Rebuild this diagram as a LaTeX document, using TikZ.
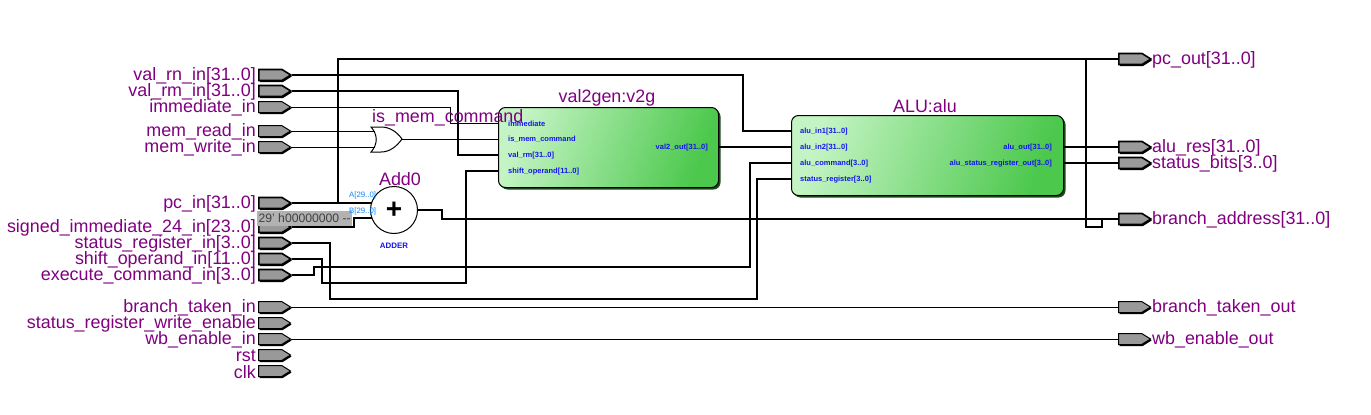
\documentclass[tikz,border=0pt]{standalone}
\usepackage{fontspec}
\setmainfont{Liberation Sans}
\usepackage{tikz}
\usetikzlibrary{shapes.symbols,shadows}
\definecolor{pinpurple}{HTML}{800080}
\definecolor{pingray}{HTML}{999999}
\definecolor{portblue}{HTML}{1414F0}
\definecolor{addblue}{HTML}{0A84FF}
\definecolor{boxlight}{HTML}{C4F4C4}
\definecolor{boxdark}{HTML}{4CC84C}
\definecolor{boxshadow}{HTML}{1F4A1F}
\tikzset{
  pinbox/.style={signal,signal to=east,signal pointer angle=64,draw=black,fill=pingray,line width=1pt,
    minimum width=32,minimum height=11,inner sep=0,general shadow={fill=black,shadow xshift=1pt,shadow yshift=-1.5pt}},
  buspin/.style={pinbox,line width=1.6pt},
  pintext/.style={text=pinpurple,font=\fontsize{17.9}{18}\selectfont,inner sep=0,yshift=-1pt},
  porttext/.style={text=portblue,font=\fontsize{7.5}{8}\selectfont\bfseries,inner sep=0,yshift=-0.7pt},
  addtext/.style={text=addblue,font=\fontsize{7.8}{8}\selectfont,inner sep=0},
  modbox/.style={draw=black,line width=1pt,rounded corners=7pt,anchor=north west,inner sep=0,
    left color=boxlight,right color=boxdark,shading angle=70,
    general shadow={fill=boxshadow,shadow xshift=2pt,shadow yshift=-2pt}},
  wirebus/.style={draw=black,line width=1.8pt},
  wirethin/.style={draw=black,line width=1pt}
}
\begin{document}
\begin{tikzpicture}[x=1pt,y=-1pt]
\useasboundingbox (0,0) rectangle (1371,415);
\node[buspin,anchor=west] (val_rn_in) at (258,75) {};
\node[buspin,anchor=west] (val_rm_in) at (258,91) {};
\node[pinbox,anchor=west] (immediate_in) at (258,107) {};
\node[pinbox,anchor=west] (mem_read_in) at (258,131) {};
\node[pinbox,anchor=west] (mem_write_in) at (258,147) {};
\node[buspin,anchor=west] (pc_in) at (258,203) {};
\node[buspin,anchor=west] (signed_in) at (258,227) {};
\node[buspin,anchor=west] (status_in) at (258,243) {};
\node[buspin,anchor=west] (shift_in) at (258,259) {};
\node[buspin,anchor=west] (execute_in) at (258,275) {};
\node[pinbox,anchor=west] (taken_in) at (258,307) {};
\node[pinbox,anchor=west] (write_en) at (258,323) {};
\node[pinbox,anchor=west] (wb_in) at (258,339) {};
\node[pinbox,anchor=west] (rst_in) at (258,355) {};
\node[pinbox,anchor=west] (clk_in) at (258,371) {};
\node[buspin,anchor=west] (pc_out) at (1118,59) {};
\node[buspin,anchor=west] (alu_res) at (1118,147) {};
\node[buspin,anchor=west] (status_bits) at (1118,163) {};
\node[buspin,anchor=west] (branch_addr) at (1118,219) {};
\node[pinbox,anchor=west] (taken_out) at (1118,307) {};
\node[pinbox,anchor=west] (wb_out) at (1118,339) {};
\node[pintext,anchor=east] (t_val_rn) at (256,75) {val\_rn\_in[31..0]};
\node[pintext,anchor=east] (t_val_rm) at (256,91) {val\_rm\_in[31..0]};
\node[pintext,anchor=east] (t_imm) at (256,107) {immediate\_in};
\node[pintext,anchor=east] (t_read) at (256,131) {mem\_read\_in};
\node[pintext,anchor=east] (t_write) at (256,147) {mem\_write\_in};
\node[pintext,anchor=east] (t_pc) at (256,203) {pc\_in[31..0]};
\node[pintext,anchor=east] (t_signed) at (256,227) {signed\_immediate\_24\_in[23..0]};
\node[pintext,anchor=east] (t_status) at (256,243) {status\_register\_in[3..0]};
\node[pintext,anchor=east] (t_shift) at (256,259) {shift\_operand\_in[11..0]};
\node[pintext,anchor=east] (t_exec) at (256,275) {execute\_command\_in[3..0]};
\node[pintext,anchor=east] (t_taken) at (256,307) {branch\_taken\_in};
\node[pintext,anchor=east] (t_wen) at (256,323) {status\_register\_write\_enable};
\node[pintext,anchor=east] (t_wb) at (256,339) {wb\_enable\_in};
\node[pintext,anchor=east] (t_rst) at (256,355) {rst};
\node[pintext,anchor=east] (t_clk) at (256,371) {clk};
\node[pintext,anchor=west] (t_pcout) at (1152,59) {pc\_out[31..0]};
\node[pintext,anchor=west] (t_res) at (1152,147) {alu\_res[31..0]};
\node[pintext,anchor=west] (t_bits) at (1152,163) {status\_bits[3..0]};
\node[pintext,anchor=west] (t_addr) at (1152,219) {branch\_address[31..0]};
\node[pintext,anchor=west] (t_takenout) at (1152,307) {branch\_taken\_out};
\node[pintext,anchor=west] (t_wbout) at (1152,339) {wb\_enable\_out};
\node[modbox,minimum width=220,minimum height=80] (v2g) at (498,107) {};
\node[modbox,minimum width=272,minimum height=80] (alu) at (791,115) {};
\node[draw=black,fill=white,circle,line width=1pt,minimum size=47,inner sep=0] (add0) at (394,210) {};
\draw[wirethin,fill=white] (371,127) .. controls (378,135) and (378,144) .. (371,152) -- (381,152)
  .. controls (390,152) and (397,146) .. (402,139) .. controls (397,132) and (390,127) .. (381,127) -- cycle;
\coordinate (or_a) at (375,131);
\coordinate (or_b) at (375,147);
\coordinate (or_out) at (402,139);
\node[porttext,anchor=west] (p_imm) at (508,123) {immediate};
\node[porttext,anchor=west] (p_mem) at (508,139) {is\_mem\_command};
\node[porttext,anchor=west] (p_rm) at (508,155) {val\_rm[31..0]};
\node[porttext,anchor=west] (p_shift) at (508,171) {shift\_operand[11..0]};
\node[porttext,anchor=east] (p_val2) at (708,147) {val2\_out[31..0]};
\node[porttext,anchor=west] (p_in1) at (800,131) {alu\_in1[31..0]};
\node[porttext,anchor=west] (p_in2) at (800,147) {alu\_in2[31..0]};
\node[porttext,anchor=west] (p_cmd) at (800,163) {alu\_command[3..0]};
\node[porttext,anchor=west] (p_sr) at (800,179) {status\_register[3..0]};
\node[porttext,anchor=east] (p_out) at (1052,147) {alu\_out[31..0]};
\node[porttext,anchor=east] (p_srout) at (1052,163) {alu\_status\_register\_out[3..0]};
\draw[wirebus] (val_rn_in.east) -- (743,75) -- (743,131) -- (alu.west |- 0,131);
\draw[wirebus] (val_rm_in.east) -- (458,91) -- (458,155) -- (v2g.west |- 0,155);
\draw[wirethin] (immediate_in.east) -- (450,107) -- (450,123) -- (v2g.west |- 0,123);
\draw[wirethin] (mem_read_in.east) -- (or_a);
\draw[wirethin] (mem_write_in.east) -- (or_b);
\draw[wirethin] (or_out) -- (v2g.west |- or_out);
\draw[wirebus] (pc_in.east) -- (372,203);
\draw[wirebus] (338,203) -- (338,59) -- (pc_out.west);
\draw[wirebus] (signed_in.east) -- (354,227) -- (354,218) -- (372,218);
\draw[wirebus] (add0.east) -- (442,210) -- (442,219) -- (branch_addr.west);
\draw[wirebus] (status_in.east) -- (330,243) -- (330,299) -- (757,299) -- (757,179) -- (alu.west |- 0,179);
\draw[wirebus] (shift_in.east) -- (322,259) -- (322,283) -- (466,283) -- (466,171) -- (v2g.west |- 0,171);
\draw[wirebus] (execute_in.east) -- (314,275) -- (314,267) -- (750,267) -- (750,163) -- (alu.west |- 0,163);
\draw[wirethin] (taken_in.east) -- (taken_out.west);
\draw[wirethin] (wb_in.east) -- (wb_out.west);
\draw[wirebus] (v2g.east |- alu_res.west) -- (alu.west |- alu_res.west);
\draw[wirebus] (alu.east |- alu_res.west) -- (alu_res.west);
\draw[wirebus] (alu.east |- status_bits.west) -- (status_bits.west);
\draw[wirebus] (1086,59) -- (1086,227) -- (1102,227) -- (1102,219);
\node[fill=black!30,anchor=west,inner sep=0,minimum width=95,minimum height=15,align=left,text=black!75,
  font=\fontsize{12.2}{13}\selectfont] (const29) at (257,218.5) {29' h00000000 -{}-};
\node[addtext,anchor=west] (a_lbl) at (349,195) {A[29..0]};
\node[addtext,anchor=west] (b_lbl) at (349,211) {B[29..0]};
\node[font=\fontsize{28}{28}\selectfont\bfseries,inner sep=0] (plus) at (394,210) {+};
\node[addtext,text=portblue,font=\fontsize{7.9}{8}\selectfont\bfseries] (adder_lbl) at (394,246) {ADDER};
\node[pintext] (t_add) at (400,178) {Add0};
\node[pintext,anchor=west] (t_or) at (372,117) {is\_mem\_command};
\node[pintext] (t_v2g) at (607,97) {val2gen:v2g};
\node[pintext] (t_alu) at (925,105) {ALU:alu};
\end{tikzpicture}
\end{document}
